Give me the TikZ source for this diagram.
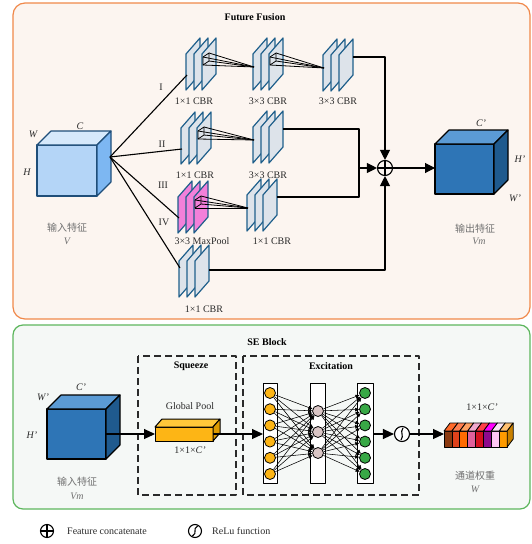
\documentclass[tikz,border=0pt]{standalone}
\usepackage{fontspec}
\setmainfont{Liberation Serif}
\newfontfamily\cjk{Noto Sans CJK SC}
\usetikzlibrary{arrows.meta,calc}
\definecolor{pOrange}{HTML}{F0884A}
\definecolor{pOrangeF}{HTML}{FCF5F0}
\definecolor{pGreen}{HTML}{5DB65D}
\definecolor{pGreenF}{HTML}{F5F8F6}
\definecolor{planeF}{HTML}{DDE3EA}
\definecolor{planeD}{HTML}{1F5F8B}
\definecolor{poolF}{HTML}{F280DA}
\definecolor{inF}{HTML}{B4D5F7}
\definecolor{inT}{HTML}{D6E9FB}
\definecolor{inR}{HTML}{7DB7F2}
\definecolor{inD}{HTML}{1F4E79}
\definecolor{outF}{HTML}{2E75B6}
\definecolor{outT}{HTML}{5B9BD5}
\definecolor{outR}{HTML}{1F5A8E}
\definecolor{yelF}{HTML}{FDB515}
\definecolor{yelT}{HTML}{FFC73A}
\definecolor{yelR}{HTML}{DC9A00}
\definecolor{nodeY}{HTML}{FDB515}
\definecolor{nodeP}{HTML}{D9C5C5}
\definecolor{nodeG}{HTML}{38A846}
\definecolor{txtG}{HTML}{707070}
\definecolor{txtD}{HTML}{2A2A2A}
\definecolor{cfA}{HTML}{8B3A10}\definecolor{ctA}{HTML}{FF6A2A}
\definecolor{cfB}{HTML}{E0421B}\definecolor{ctB}{HTML}{FF7F50}
\definecolor{cfC}{HTML}{FF6B00}\definecolor{ctC}{HTML}{FFA060}
\definecolor{cfD}{HTML}{E0609A}\definecolor{ctD}{HTML}{F0A8CC}
\definecolor{cfE}{HTML}{D4101E}\definecolor{ctE}{HTML}{FF4048}
\definecolor{cfF}{HTML}{8E0A8E}\definecolor{ctF}{HTML}{FF00FF}
\definecolor{cfG}{HTML}{FFC8F5}\definecolor{ctG}{HTML}{F8E4F4}
\definecolor{cfH}{HTML}{FF9B00}\definecolor{ctH}{HTML}{FFC070}
\definecolor{cbR}{HTML}{C98100}
\newcommand{\cuboid}[9][black]{%
  \filldraw[draw=#1, fill=#7, line width=1.1pt] (#2,#3) rectangle ++(#4,#5);
  \filldraw[draw=#1, fill=#8, line width=1.1pt] (#2,#3) -- ++(#6,-#6) -- ++(#4,0) -- ++(-#6,#6) -- cycle;
  \filldraw[draw=#1, fill=#9, line width=1.1pt] (#2+#4,#3) -- ++(#6,-#6) -- ++(0,#5) -- ++(-#6,#6) -- cycle;
}
\newcommand{\fan}[2]{%
  \draw[fanline] (#1-q1) -- (#1-q2) -- (#1-q3) -- (#1-q4) -- cycle;
  \foreach \q in {q1,q2,q3,q4} \draw[fanline] (#1-\q) -- (#2-apex);
}
\begin{document}
\begin{tikzpicture}[x=1pt, y=-1pt, font=\fontsize{10}{11.5}\selectfont, line join=round,
  plane/.style={draw=planeD, line width=1.2pt},
  fanline/.style={line width=0.8pt, black},
  conn/.style={line width=1.1pt, black},
  arr/.style={conn, -{Triangle[length=10pt,width=10pt]}},
  arrb/.style={conn, -{Triangle[length=11pt,width=10pt]}},
  nn/.style={line width=0.55pt, -{Triangle[length=4pt,width=3.5pt]}},
  nc/.style={circle, draw, line width=0.8pt, minimum size=11pt, inner sep=0pt},
  opnode/.style={circle, draw, line width=1.1pt, minimum size=15pt, inner sep=0pt},
  lbl/.style={text=txtD, inner sep=1pt},
  ital/.style={lbl, font=\itshape\fontsize{10}{11}\selectfont},
  cn/.style={text=txtG, font=\cjk\fontsize{10}{11}\selectfont, inner sep=1pt},
  ttl/.style={font=\bfseries\fontsize{10}{11.5}\selectfont, inner sep=1pt},
  dbox/.style={draw=txtD, line width=1.3pt, dash pattern=on 7pt off 4pt},
  pics/planes/.style={code={
    \foreach \k in {0,1,2}{\filldraw[plane, fill=#1] (8*\k,0) -- (8*\k,-36) -- (8*\k+14,-52) -- (8*\k+14,-16) -- cycle;}
    \coordinate (-in) at (1,-15);
    \coordinate (-in2) at (1,-29);
    \coordinate (-out) at (30,-34);
    \coordinate (-mid) at (30,-27);
    \coordinate (-apex) at (1,-23);
    \coordinate (-q1) at (17,-33);
    \coordinate (-q2) at (23,-37);
    \coordinate (-q3) at (23,-29);
    \coordinate (-q4) at (17,-25);
  }}]
\useasboundingbox (0,0) rectangle (532,544);

% ---------- panels ----------
\draw[draw=pOrange, fill=pOrangeF, line width=1.2pt, rounded corners=12pt] (13,3) rectangle (530,319);
\draw[draw=pGreen, fill=pGreenF, line width=1.2pt, rounded corners=10pt] (13,325) rectangle (530,509);
\node[ttl] (t1) at (255,17) {Future Fusion};
\node[ttl] (t2) at (267,342) {SE Block};

% ---------- input cube ----------
\cuboid[inD]{37}{145}{60}{51}{14}{inF}{inT}{inR}
\coordinate (inpt) at (110,157);
\node[ital] (lw) at (33,134) {W};
\node[ital] (lc) at (80,126) {C};
\node[ital] (lh) at (27,172) {H};
\node[cn] (inlab) at (67,228) {输入特征};
\node[ital, text=txtG] (inv) at (67,241) {V};

% ---------- stacks ----------
\pic (s1) at (186,90) {planes=planeF};
\pic (s2) at (253,90) {planes=planeF};
\pic (s3) at (323,91) {planes=planeF};
\pic (s4) at (181,164) {planes=planeF};
\pic (s5) at (253,163) {planes=planeF};
\pic (s6) at (178,233) {planes=poolF};
\pic (s7) at (247,231) {planes=planeF};
\pic (s8) at (179,297) {planes=planeF};

\fan{s1}{s2}
\fan{s2}{s3}
\fan{s4}{s5}
\fan{s6}{s7}

\node[lbl] (l1) at (194,101) {1×1 CBR};
\node[lbl] (l2) at (268,101) {3×3 CBR};
\node[lbl] (l3) at (338,101) {3×3 CBR};
\node[lbl] (l4) at (195,175) {1×1 CBR};
\node[lbl] (l5) at (268,175) {3×3 CBR};
\node[lbl] (l6) at (202,241) {3×3 MaxPool};
\node[lbl] (l7) at (272,241) {1×1 CBR};
\node[lbl] (l8) at (204,309) {1×1 CBR};

\node[lbl] (r1) at (161,87) {I};
\node[lbl] (r2) at (162,144) {II};
\node[lbl] (r3) at (163,185) {III};
\node[lbl] (r4) at (164,222) {IV};

% input fan lines
\draw[conn] (inpt) -- (s1-in);
\draw[conn] (inpt) -- (s4-in);
\draw[conn] (inpt) -- (s6-in);
\draw[conn] (inpt) -- (s8-in2);

% ---------- concatenation ----------
\node[opnode] (plus) at (385,168) {};
\draw[line width=1.1pt] (plus.north) -- (plus.south) (plus.west) -- (plus.east);
\coordinate (jn) at (359,168);
\draw[arr] (s3-out) -| (plus);
\draw[arr] (s8-mid) -| (plus);
\draw[conn] (s5-out) -| (jn);
\draw[conn] (s7-out) -| (jn);
\draw[arr] (jn) -- (plus);

% ---------- output cube ----------
\cuboid[black]{435}{144}{59}{50}{14}{outF}{outT}{outR}
\coordinate (oc) at (435,168);
\draw[arr] (plus) -- (oc);
\node[ital] (oc1) at (481,123) {C’};
\node[ital] (oc2) at (520,159) {H’};
\node[ital] (oc3) at (515,198) {W’};
\node[cn] (outlab) at (475,229) {输出特征};
\node[ital, text=txtG] (outv) at (479,241) {Vm};

% ---------- SE block ----------
\cuboid[black]{47}{409}{59}{50}{14}{outF}{outT}{outR}
\node[ital] (vw) at (43,397) {W’};
\node[ital] (vc) at (81,387) {C’};
\node[ital] (vh) at (32,435) {H’};
\node[cn] (vmlab) at (77,482) {输入特征};
\node[ital, text=txtG] (vmv) at (77,496) {Vm};

\draw[dbox] (138,356) rectangle (236,495);
\draw[dbox] (243,356) rectangle (419,495);
\node[ttl] (sq) at (191,366) {Squeeze};
\node[ttl] (ex) at (331,366) {Excitation};
\node[lbl] (gp) at (190,406) {Global Pool};

% yellow bar
\filldraw[draw=black, fill=yelF, line width=1pt] (155,427) rectangle ++(58,14);
\filldraw[draw=black, fill=yelT, line width=1pt] (155,427) -- ++(7,-8) -- ++(58,0) -- ++(-7,8) -- cycle;
\filldraw[draw=black, fill=yelR, line width=1pt] (213,427) -- ++(7,-8) -- ++(0,14) -- ++(-7,8) -- cycle;
\node[lbl] (gps) at (190,450) {1×1×\textit{C’}};
\coordinate (vmo) at (106,434);
\coordinate (ybi) at (155,434);
\coordinate (ybo) at (213,434);
\draw[arrb] (vmo) -- (ybi);

% neural net
\draw[line width=1pt, fill=white] (263,383) rectangle (277,483);
\draw[line width=1pt, fill=white] (310,383) rectangle (325,483);
\draw[line width=1pt, fill=white] (357,383) rectangle (373,483);
\coordinate (nin) at (263,434);
\coordinate (nout) at (373,434);
\draw[arrb] (ybo) -- (nin);
\foreach \i in {1,...,6} {
  \node[nc, fill=nodeY] (a\i) at (270,{393+16.2*(\i-1)}) {};
  \node[nc, fill=nodeG] (c\i) at (365,{393+16.2*(\i-1)}) {};
}
\foreach \j in {1,2,3} \node[nc, fill=nodeP] (b\j) at (318,{411+21*(\j-1)}) {};
\foreach \i in {1,...,6} \foreach \j in {1,2,3} {
  \draw[nn] (a\i) -- (b\j);
  \draw[nn] (b\j) -- (c\i);
}

% relu
\node[opnode, fill=white] (relu) at (402,434) {};
\draw[line width=1.1pt] ($(relu)+(-1,6)$) .. controls ($(relu)+(2.5,1.5)$) and ($(relu)+(-2.5,-1.5)$) .. ($(relu)+(1,-6)$);
\draw[arrb] (nout) -- (relu);
\coordinate (cbi) at (444,434);
\draw[arrb] (relu) -- (cbi);

% colour bar
\foreach \i/\f/\t in {0/cfA/ctA,1/cfB/ctB,2/cfC/ctC,3/cfD/ctD,4/cfE/ctE,5/cfF/ctF,6/cfG/ctG,7/cfH/ctH} {
  \filldraw[draw=black, fill=\f, line width=0.8pt] ({444+7.9*\i},431) rectangle ++(7.9,16);
  \filldraw[draw=black, fill=\t, line width=0.8pt] ({444+7.9*\i},431) -- ++(6,-8) -- ++(7.9,0) -- ++(-6,8) -- cycle;
}
\filldraw[draw=black, fill=cbR, line width=0.8pt] (507.2,431) -- ++(6,-8) -- ++(0,16) -- ++(-6,8) -- cycle;
\node[lbl] (cbl) at (482,407) {1×1×\textit{C’}};
\node[cn] (cbcn) at (475,476) {通道权重};
\node[ital, text=txtG] (cbw) at (475,489) {W};

% ---------- legend ----------
\node[circle, draw, line width=1.1pt, minimum size=13pt, inner sep=0pt] (lg1) at (47,531) {};
\draw[line width=1.1pt] (lg1.north) -- (lg1.south) (lg1.west) -- (lg1.east);
\node[lbl, anchor=west] (lt1) at (66,531) {Feature concatenate};
\node[circle, draw, line width=1.1pt, minimum size=13pt, inner sep=0pt] (lg2) at (195,531) {};
\draw[line width=1.1pt] ($(lg2)+(-2.5,5)$) .. controls ($(lg2)+(3,2)$) and ($(lg2)+(-3,-2)$) .. ($(lg2)+(2.5,-5)$);
\node[lbl, anchor=west] (lt2) at (211,531) {ReLu function};
\end{tikzpicture}
\end{document}
